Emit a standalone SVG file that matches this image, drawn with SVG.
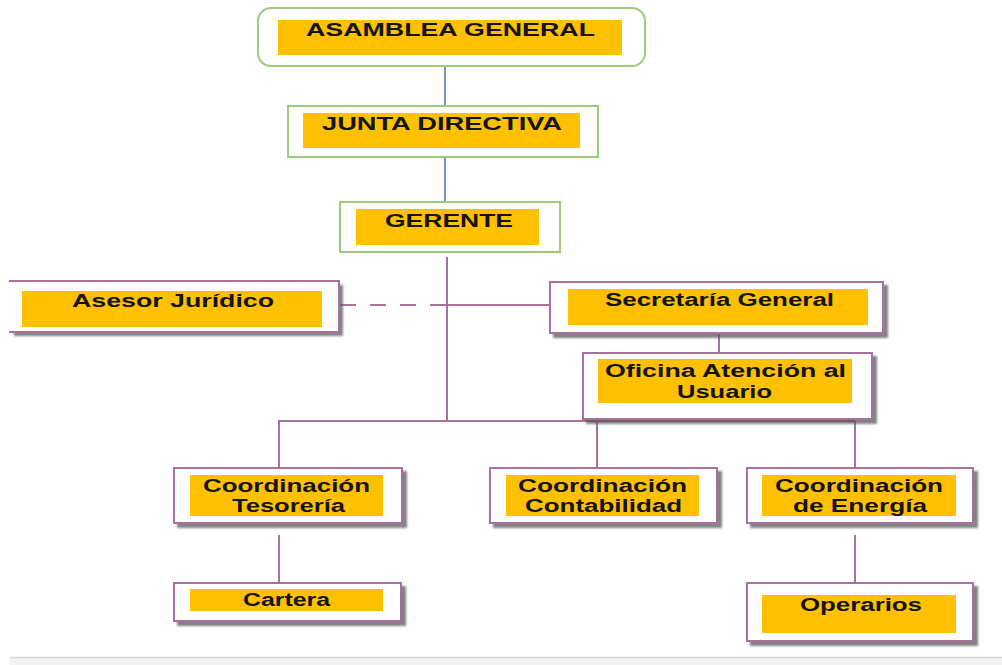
<svg xmlns="http://www.w3.org/2000/svg" width="1002" height="665" viewBox="0 0 1002 665">
  <defs>
    <filter id="sh" x="-10%" y="-20%" width="130%" height="160%">
      <feDropShadow dx="4" dy="4" stdDeviation="1.2" flood-color="#5a5a5a" flood-opacity="0.75"/>
    </filter>
  </defs>
  <style>
    .g { fill: #ffffff; stroke: #9ccb7d; stroke-width: 2; }
    .p { fill: #ffffff; stroke: #a8709a; stroke-width: 2; }
    .y { fill: #ffc000; }
    .t { font-family: "Liberation Sans", Arial, sans-serif; font-weight: bold; font-size: 18px; fill: #141414; }
    .cb { stroke: #7393cc; stroke-width: 2; fill: none; }
    .cp { stroke: #a8709a; stroke-width: 2; fill: none; }
  </style>
  <rect x="0" y="0" width="1002" height="665" fill="#ffffff"/>
  <rect x="10" y="657" width="992" height="8" fill="#f2f2f2"/>
  <line x1="10" y1="657.5" x2="1002" y2="657.5" stroke="#d6d6d6" stroke-width="1.5"/>

  <g id="connectors">
    <line class="cb" x1="445" y1="66" x2="445" y2="106"/>
    <line class="cb" x1="445" y1="157" x2="445" y2="202"/>
    <line class="cp" x1="447" y1="257" x2="447" y2="421"/>
    <line class="cp" x1="340" y1="305" x2="447" y2="305" stroke-dasharray="16 14"/>
    <line class="cp" x1="447" y1="305" x2="551" y2="305"/>
    <line class="cp" x1="719" y1="333" x2="719" y2="353"/>
    <line class="cp" x1="278" y1="421" x2="855" y2="421"/>
    <line class="cp" x1="279" y1="420" x2="279" y2="468"/>
    <line class="cp" x1="597" y1="421" x2="597" y2="468"/>
    <line class="cp" x1="855" y1="421" x2="855" y2="468"/>
    <line class="cp" x1="279" y1="535" x2="279" y2="583"/>
    <line class="cp" x1="855" y1="535" x2="855" y2="583"/>
  </g>

  <g id="asamblea">
    <rect class="g" x="258" y="8" width="387" height="58" rx="13"/>
    <rect class="y" x="278" y="20" width="344" height="35"/>
    <text class="t" x="306" y="36" textLength="289" lengthAdjust="spacingAndGlyphs">ASAMBLEA GENERAL</text>
  </g>

  <g id="junta">
    <rect class="g" x="288" y="106" width="310" height="51"/>
    <rect class="y" x="303" y="113" width="277" height="35"/>
    <text class="t" x="322" y="130" textLength="240" lengthAdjust="spacingAndGlyphs">JUNTA DIRECTIVA</text>
  </g>

  <g id="gerente">
    <rect class="g" x="340" y="202" width="220" height="50"/>
    <rect class="y" x="356" y="209" width="183" height="36"/>
    <text class="t" x="385" y="227" textLength="128" lengthAdjust="spacingAndGlyphs">GERENTE</text>
  </g>

  <g id="asesor">
    <rect x="10" y="281" width="329" height="51" fill="#ffffff" filter="url(#sh)"/>
    <path d="M9,281 H339 V332 H9" fill="none" stroke="#a8709a" stroke-width="2"/>
    <rect class="y" x="22" y="291" width="300" height="36"/>
    <text class="t" x="72" y="307" textLength="202" lengthAdjust="spacingAndGlyphs">Asesor  Jurídico</text>
  </g>

  <g id="secretaria">
    <rect class="p" x="550" y="282" width="333" height="51" filter="url(#sh)"/>
    <rect class="y" x="568" y="289" width="300" height="36"/>
    <text class="t" x="605" y="306" textLength="229" lengthAdjust="spacingAndGlyphs">Secretaría  General</text>
  </g>

  <g id="oficina">
    <rect class="p" x="583" y="353" width="289" height="66" filter="url(#sh)"/>
    <rect class="y" x="598" y="359" width="254" height="44"/>
    <text class="t" x="605" y="377" textLength="241" lengthAdjust="spacingAndGlyphs">Oficina Atención  al</text>
    <text class="t" x="677" y="398" textLength="95" lengthAdjust="spacingAndGlyphs">Usuario</text>
  </g>

  <g id="tesoreria">
    <rect class="p" x="174" y="468" width="228" height="55" filter="url(#sh)"/>
    <rect class="y" x="190" y="475" width="193" height="41"/>
    <text class="t" x="203" y="492" textLength="167" lengthAdjust="spacingAndGlyphs">Coordinación</text>
    <text class="t" x="232" y="512" textLength="113" lengthAdjust="spacingAndGlyphs">Tesorería</text>
  </g>

  <g id="contabilidad">
    <rect class="p" x="490" y="468" width="227" height="55" filter="url(#sh)"/>
    <rect class="y" x="506" y="475" width="193" height="41"/>
    <text class="t" x="518" y="492" textLength="169" lengthAdjust="spacingAndGlyphs">Coordinación</text>
    <text class="t" x="525" y="512" textLength="157" lengthAdjust="spacingAndGlyphs">Contabilidad</text>
  </g>

  <g id="energia">
    <rect class="p" x="747" y="468" width="226" height="55" filter="url(#sh)"/>
    <rect class="y" x="762" y="475" width="194" height="41"/>
    <text class="t" x="775" y="492" textLength="168" lengthAdjust="spacingAndGlyphs">Coordinación</text>
    <text class="t" x="793" y="512" textLength="134" lengthAdjust="spacingAndGlyphs">de Energía</text>
  </g>

  <g id="cartera">
    <rect class="p" x="174" y="583" width="227" height="38" filter="url(#sh)"/>
    <rect class="y" x="190" y="589" width="193" height="22"/>
    <text class="t" x="243" y="606" textLength="87" lengthAdjust="spacingAndGlyphs">Cartera</text>
  </g>

  <g id="operarios">
    <rect class="p" x="747" y="583" width="226" height="58" filter="url(#sh)"/>
    <rect class="y" x="762" y="595" width="194" height="38"/>
    <text class="t" x="800" y="611" textLength="122" lengthAdjust="spacingAndGlyphs">Operarios</text>
  </g>
</svg>
